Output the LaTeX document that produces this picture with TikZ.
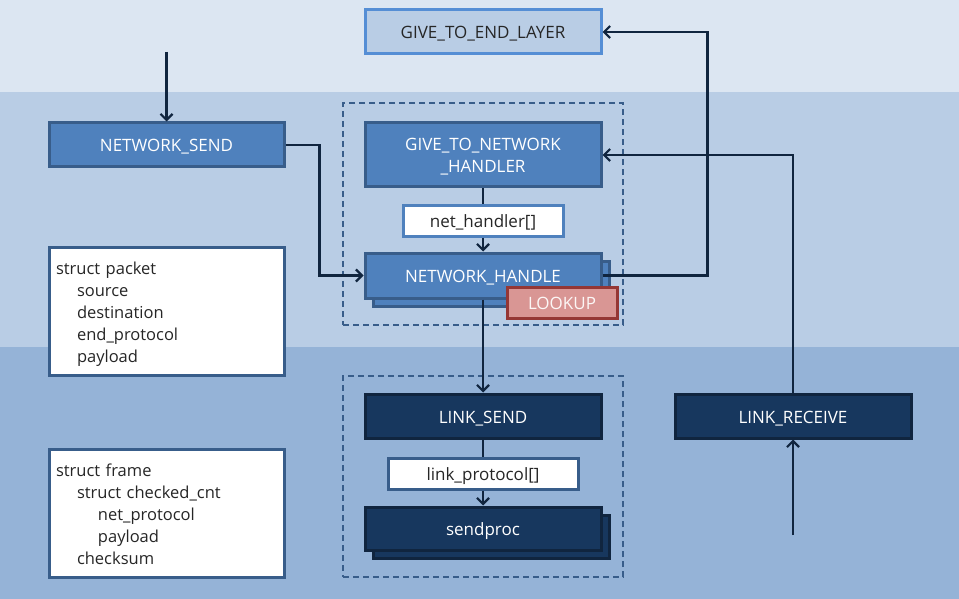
\documentclass[tikz,border=0pt]{standalone}
\usepackage{fontspec}
\setmainfont{Open Sans}
\usetikzlibrary{arrows.meta,shadows}
\definecolor{bandTop}{HTML}{DCE6F2}
\definecolor{bandMid}{HTML}{B9CDE5}
\definecolor{bandBot}{HTML}{95B3D7}
\definecolor{midBlue}{HTML}{4F81BD}
\definecolor{midBorder}{HTML}{385D8A}
\definecolor{lightBorder}{HTML}{558ED5}
\definecolor{navy}{HTML}{17375E}
\definecolor{navyBorder}{HTML}{10253F}
\definecolor{lookFill}{HTML}{D99694}
\definecolor{lookBorder}{HTML}{953735}
\definecolor{txt}{HTML}{262626}
\tikzset{
  base/.style={rectangle, line width=3pt, inner sep=0pt, align=center, font=\fontsize{17}{22}\selectfont,
     text depth=0pt, text height=14pt},
  lightbox/.style={base, fill=bandMid, draw=lightBorder, text=txt},
  midbox/.style={base, fill=midBlue, draw=midBorder, text=white},
  navybox/.style={base, fill=navy, draw=navyBorder, text=white},
  whitebox/.style={base, fill=white, draw=midBorder, text=txt},
  tablebox/.style={rectangle, line width=3pt, fill=white, draw=midBorder, text=txt, align=left,
     inner xsep=7pt, inner ysep=0pt, font=\fontsize{16.5}{22}\selectfont},
  lookbox/.style={base, fill=lookFill, draw=lookBorder, text=white!92!lookFill},
  groupbox/.style={rectangle, draw=midBorder, line width=2pt, dash pattern=on 6pt off 4pt, inner sep=0pt},
  shadowed/.style={copy shadow={shadow xshift=8pt, shadow yshift=-8pt}},
  conn/.style={draw=navyBorder, line width=2.8pt},
  arr/.style={conn, -{Straight Barb[length=6pt,width=12pt,line width=2.2pt]}},
}
\begin{document}
\begin{tikzpicture}[x=1pt,y=-1pt]
\useasboundingbox (0,0) rectangle (959,599);
% bands
\fill[bandTop] (0,0) rectangle (959,92);
\fill[bandMid] (0,92) rectangle (959,347);
\fill[bandBot] (0,347) rectangle (959,599);

% group boxes
\node[groupbox, minimum width=280pt, minimum height=222pt] (g1) at (483,214) {};
\node[groupbox, minimum width=280pt, minimum height=201pt] (g2) at (483,476.5) {};

% nodes
\node[lightbox, minimum width=236pt, minimum height=44pt] (gtel) at (483,32) {GIVE\_TO\_END\_LAYER};
\node[midbox, minimum width=235pt, minimum height=44pt] (nsend) at (166.5,145) {NETWORK\_SEND};
\node[midbox, text height=36pt, minimum width=236pt, minimum height=64pt] (gtnh) at (483,155) {GIVE\_TO\_NETWORK\\\_HANDLER};
\node[whitebox, draw=midBlue, minimum width=160pt, minimum height=31pt] (nh) at (483,220.5) {net\_handler[]};
\node[midbox, shadowed, minimum width=236pt, minimum height=45pt] (nhandle) at (483,275.5) {NETWORK\_HANDLE};
\node[lookbox, minimum width=110pt, minimum height=31pt] (lookup) at (562,302.5) {LOOKUP};
\node[navybox, minimum width=236pt, minimum height=44pt] (lsend) at (483,416) {LINK\_SEND};
\node[whitebox, minimum width=190pt, minimum height=31pt] (lp) at (483,473.5) {link\_protocol[]};
\node[navybox, shadowed, minimum width=236pt, minimum height=43pt] (sendproc) at (483,528.5) {sendproc};
\node[navybox, minimum width=236pt, minimum height=44pt] (lrecv) at (793,416) {LINK\_RECEIVE};
\node[tablebox, minimum width=235pt, minimum height=128pt, text width=221pt] (spkt) at (166.5,311)
  {\raisebox{0pt}[18pt]{}struct packet\\\hspace*{21pt}source\\\hspace*{21pt}destination\\\hspace*{21pt}end\_protocol\\\hspace*{21pt}payload};
\node[tablebox, minimum width=235pt, minimum height=128pt, text width=221pt] (sframe) at (166.5,513)
  {\raisebox{0pt}[16pt]{}struct frame\\\hspace*{21pt}struct checked\_cnt\\\hspace*{42pt}net\_protocol\\\hspace*{42pt}payload\\\hspace*{21pt}checksum};

% free ends
\coordinate (topin) at (166.5,52);
\coordinate (botin) at (793,535);

% connectors
\draw[arr] (topin) -- (nsend.north);
\draw[arr] (nsend.east) -- ++(34,0) |- (nhandle.west);
\draw[conn] (gtnh.south) -- (nh.north);
\draw[arr] (nh.south) -- (nhandle.north);
\draw[arr] (nhandle.east) -- ++(105,0) |- (gtel.east);
\draw[arr] (nhandle.south) -- (lsend.north);
\draw[arr] (lrecv.north) |- (gtnh.east);
\draw[arr] (botin) -- (lrecv.south);
\draw[conn] (lsend.south) -- (lp.north);
\draw[arr] (lp.south) -- (sendproc.north);
\end{tikzpicture}
\end{document}
